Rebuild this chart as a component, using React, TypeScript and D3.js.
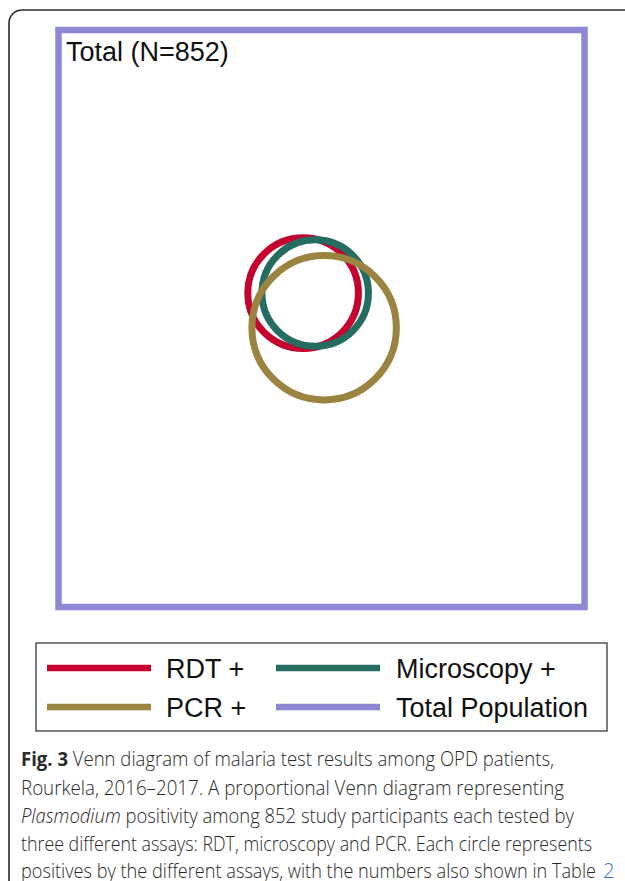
import * as d3 from 'd3'

const TOTAL = 852
const TOTAL_LABEL = `Total (N=${TOTAL})`

// proportional venn: positives per assay, centres in % of the population box
const SET_LABELS = ['RDT +', 'Microscopy +', 'PCR +']
const SET_COUNTS = [27, 25, 46]
const SET_CX = [46.5, 48.8, 50.5]
const SET_CY = [45.6, 45.6, 51.6]
const SET_COLORS = ['#C4042E', '#256C61', '#9B8442']
const POP_COLOR = '#8E87D3'

const LEGEND_LABELS = ['RDT +', 'Microscopy +', 'PCR +', 'Total Population']
const LEGEND_COLORS = [SET_COLORS[0], SET_COLORS[1], SET_COLORS[2], POP_COLOR]

const CAPTION = [
  'Venn diagram of malaria test results among OPD patients,',
  'Rourkela, 2016–2017. A proportional Venn diagram representing',
  'positivity among 852 study participants each tested by',
  'three different assays: RDT, microscopy and PCR. Each circle represents',
  'positives by the different assays, with the numbers also shown in Table',
]
const CAPTION_WIDTHS = [533, 543, 553, 571, 575]

const W = 625
const H = 881
const BOX = { x0: 58.5, x1: 584.5, y0: 30, y1: 607 }
const SANS = '"Liberation Sans", Arial, sans-serif'
const CAP_FONT = '"Open Sans", "Noto Sans", sans-serif'

export default function App() {
  const x = d3.scaleLinear().domain([0, 100]).range([BOX.x0, BOX.x1])
  const y = d3.scaleLinear().domain([0, 100]).range([BOX.y0, BOX.y1])
  const boxW = BOX.x1 - BOX.x0
  const boxH = BOX.y1 - BOX.y0
  // circle area proportional to share of the population box
  const r = d3.scaleSqrt().domain([0, TOTAL]).range([0, Math.sqrt((boxW * boxH) / Math.PI)])

  const legendCols = [47, 276]
  const legendText = [166, 396]
  const legendRows = [668, 707]
  const capY = [766, 795, 823, 851, 878]

  return (
    <div style={{ position: 'absolute', left: 0, top: 0 }}>
      <svg width={W} height={H} style={{ display: 'block', background: '#fff' }}>
        {/* page frame */}
        <rect x={9} y={10} width={680} height={960} rx={13}
          fill="none" stroke="#2b2b2b" strokeWidth={1.6} />

        {/* population box */}
        <rect x={x(0)} y={y(0)} width={x(100) - x(0)} height={y(100) - y(0)}
          fill="none" stroke={POP_COLOR} strokeWidth={6.5} />
        <text x={66} y={61} fontFamily={SANS} fontSize={27} fill="#111">{TOTAL_LABEL}</text>

        {SET_COUNTS.map((c, i) => (
          <circle key={SET_LABELS[i]} cx={x(SET_CX[i])} cy={y(SET_CY[i])} r={r(c)}
            fill="none" stroke={SET_COLORS[i]} strokeWidth={7} />
        ))}

        {/* legend */}
        <rect x={36} y={643} width={571} height={88} fill="none" stroke="#3a3a3a" strokeWidth={1.3} />
        {LEGEND_LABELS.map((lab, i) => {
          const col = i % 2
          const row = Math.floor(i / 2)
          return (
            <g key={lab}>
              <line x1={legendCols[col]} x2={legendCols[col] + 104}
                y1={legendRows[row]} y2={legendRows[row]}
                stroke={LEGEND_COLORS[i]} strokeWidth={6.5} />
              <text x={legendText[col]} y={legendRows[row] + 10} fontFamily={SANS}
                fontSize={27} fill="#111">{lab}</text>
            </g>
          )
        })}

        {/* caption */}
        {CAPTION.map((line, i) => (
          <text key={i} x={21} y={capY[i]} fontFamily={CAP_FONT} fontSize={20} fontWeight={300}
            fill="#2a2a2a" textLength={CAPTION_WIDTHS[i]} lengthAdjust="spacingAndGlyphs">
            {i === 0 && <tspan fontWeight={700}>Fig. 3 </tspan>}
            {i === 2 && <tspan fontStyle="italic">Plasmodium </tspan>}
            {line}
          </text>
        ))}
        <text x={603} y={capY[4]} fontFamily={CAP_FONT} fontSize={20} fontWeight={300}
          fill="#2F6FD6">2</text>
      </svg>
    </div>
  )
}
